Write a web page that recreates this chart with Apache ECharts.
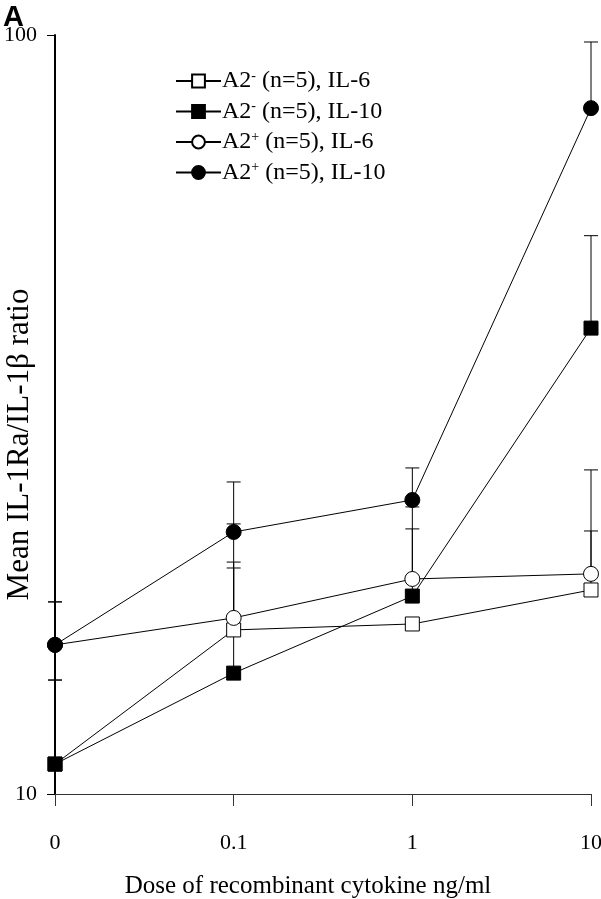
<!DOCTYPE html>
<html>
<head>
<meta charset="utf-8">
<script src="https://cdn.jsdelivr.net/npm/echarts@6/dist/echarts.min.js"></script>
<style>html,body{margin:0;padding:0;background:#fff}#c{width:601px;height:899px}</style>
</head>
<body>
<div id="c"></div>
<script>
const categories = ['0', '0.1', '1', '10'];
const seriesNames = ['A2- (n=5), IL-6', 'A2- (n=5), IL-10', 'A2+ (n=5), IL-6', 'A2+ (n=5), IL-10'];
const a2mIL6 = [10.95, 16.45, 16.75, 18.57];
const a2mIL6Up = [14.13, 19.85, null, 22.21];
const a2mIL10 = [10.95, 14.43, 18.23, 41.1];
const a2mIL10Up = [14.13, 22.69, 23.89, 54.4];
const a2pIL6 = [15.72, 17.06, 19.20, 19.50];
const a2pIL6Up = [17.91, 20.21, 22.35, 26.73];
const a2pIL10 = [15.72, 22.14, 24.40, 80.1];
const a2pIL10Up = [17.91, 25.77, 26.89, 97.9];
const yTicks = [10, 100];

const serif = 'Liberation Serif';
const means = [a2mIL6, a2mIL10, a2pIL6, a2pIL10];
const uppers = [a2mIL6Up, a2mIL10Up, a2pIL6Up, a2pIL10Up];
const symbols = ['rect', 'rect', 'circle', 'circle'];
const fills = ['#fff', '#000', '#fff', '#000'];

const errData = [];
means.forEach((m, s) => m.forEach((v, i) => {
  if (uppers[s][i] != null) errData.push([i, v, uppers[s][i]]);
}));

const chart = echarts.init(document.getElementById('c'), null, {renderer: 'canvas'});
const series = [{
  type: 'custom',
  name: 'err',
  z: 1,
  silent: true,
  encode: {x: 0, y: [1, 2]},
  data: errData,
  renderItem: function (params, api) {
    const p0 = api.coord([api.value(0), api.value(1)]);
    const p1 = api.coord([api.value(0), api.value(2)]);
    const st = {stroke: '#000', lineWidth: 1};
    return {type: 'group', children: [
      {type: 'line', shape: {x1: p0[0], y1: p0[1], x2: p1[0], y2: p1[1]}, style: st},
      {type: 'line', shape: {x1: p1[0] - 7, y1: p1[1], x2: p1[0] + 7, y2: p1[1]}, style: st}
    ]};
  }
}];
means.forEach((m, s) => series.push({
  type: 'line',
  name: seriesNames[s],
  data: m,
  z: 3 + s,
  symbol: symbols[s],
  symbolSize: symbols[s] === 'rect' ? 14 : 15,
  showAllSymbol: true,
  lineStyle: {color: '#000', width: 1},
  itemStyle: {color: fills[s], borderColor: '#000', borderWidth: 1, opacity: 1},
  emphasis: {disabled: true},
  animation: false
}));

chart.setOption({
  animation: false,
  backgroundColor: '#fff',
  grid: {left: 55, right: 10, top: 35, bottom: 105, containLabel: false, outerBoundsMode: 'none'},
  legend: {
    data: seriesNames,
    orient: 'vertical',
    left: 170,
    top: 64,
    itemGap: 6.5,
    itemWidth: 45,
    itemHeight: 16,
    formatter: function (name) {
      const sign = name.indexOf('A2+') === 0 ? '+' : '-';
      return 'A2{sup|' + sign + '}' + name.slice(3);
    },
    textStyle: {
      fontFamily: serif, fontSize: 24, lineHeight: 24, color: '#000', padding: [0, 0, 0, -4],
      rich: {sup: {fontFamily: serif, fontSize: 14, lineHeight: 24, color: '#000', verticalAlign: 'top', padding: [0, 0, 10, 0]}}
    }
  },
  graphic: [{
    type: 'text', left: 3, top: 3,
    style: {text: 'A', font: 'bold 29px "Liberation Sans"', fill: '#000'}
  }],
  xAxis: {
    type: 'category',
    data: categories,
    boundaryGap: false,
    name: 'Dose of recombinant cytokine ng/ml',
    nameLocation: 'middle',
    nameGap: 80,
    nameTextStyle: {fontFamily: serif, fontSize: 25, color: '#000', padding: [0, 30, 0, 0]},
    axisLine: {lineStyle: {color: '#333', width: 1}},
    axisTick: {show: true, length: 12, alignWithLabel: true, lineStyle: {color: '#333'}},
    axisLabel: {fontFamily: serif, fontSize: 22, color: '#000', margin: 38},
    splitLine: {show: false}
  },
  yAxis: {
    type: 'log',
    logBase: 10,
    min: yTicks[0],
    max: yTicks[1],
    name: 'Mean IL-1Ra/IL-1\u03b2 ratio',
    nameLocation: 'middle',
    nameGap: 20,
    nameMoveOverlap: false,
    nameTextStyle: {fontFamily: serif, fontSize: 31, color: '#000', padding: [0, 60, 0, 0]},
    axisLine: {show: true, lineStyle: {color: '#000', width: 2}},
    axisTick: {show: true, length: 8, lineStyle: {color: '#000', width: 1}},
    minorTick: {show: false},
    axisLabel: {fontFamily: serif, fontSize: 22, color: '#000', margin: 18},
    splitLine: {show: false}
  },
  series: series
});
</script>
</body>
</html>
